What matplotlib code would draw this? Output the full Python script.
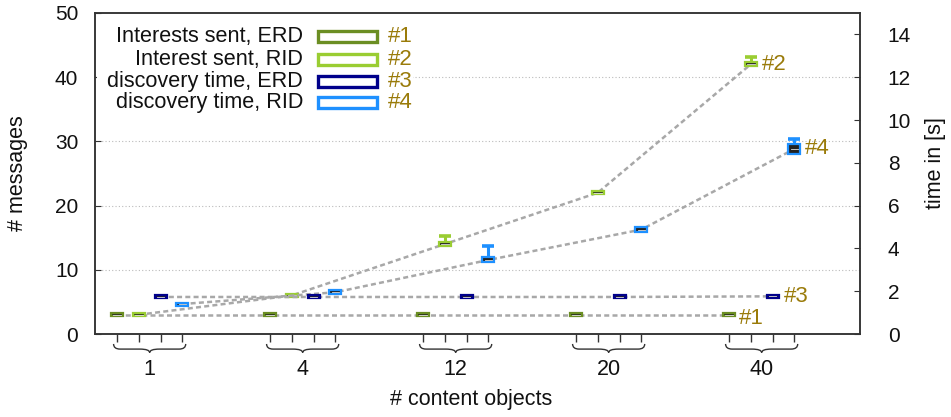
import matplotlib
matplotlib.use("Agg")
import matplotlib.pyplot as plt
from matplotlib.patches import Rectangle, PathPatch
from matplotlib.path import Path
import matplotlib.transforms as mtrans

plt.rcParams['font.family'] = ['Liberation Sans', 'DejaVu Sans']

# ---------------- data ----------------
categories = ["1", "4", "12", "20", "40"]
series_names = ["Interests sent, ERD", "Interest sent, RID",
                "discovery time, ERD", "discovery time, RID"]
series_tags = ["#1", "#2", "#3", "#4"]

# Interests sent, ERD  (# messages)
int_erd_q1 = [2.8, 2.8, 2.8, 2.8, 2.8]
int_erd_med = [3, 3, 3, 3, 3]
int_erd_q3 = [3.2, 3.2, 3.2, 3.2, 3.2]
int_erd_max = [3.2, 3.2, 3.2, 3.2, 3.2]

# Interest sent, RID  (# messages)
int_rid_q1 = [2.8, 5.8, 13.7, 21.8, 41.7]
int_rid_med = [3, 6, 14, 22, 42]
int_rid_q3 = [3.2, 6.2, 14.3, 22.2, 42.3]
int_rid_max = [3.2, 6.2, 15.2, 22.2, 43.1]

# discovery time, ERD  (s)
disc_erd_q1 = [1.66, 1.66, 1.66, 1.66, 1.69]
disc_erd_med = [1.73, 1.73, 1.73, 1.73, 1.76]
disc_erd_q3 = [1.80, 1.80, 1.80, 1.80, 1.83]
disc_erd_max = [1.80, 1.80, 1.80, 1.80, 1.83]

# discovery time, RID  (s)
disc_rid_q1 = [1.33, 1.86, 3.38, 4.78, 8.42]
disc_rid_med = [1.40, 1.95, 3.46, 4.88, 8.65]
disc_rid_q3 = [1.47, 2.06, 3.58, 5.02, 8.86]
disc_rid_max = [1.47, 2.06, 4.12, 5.02, 9.10]

colors = ["#6b8e23", "#9acd32", "#00008b", "#1e90ff"]
tag_color = "#9a7b0a"

# ---------------- layout ----------------
W, H = 951, 417
fig = plt.figure(figsize=(W / 100, H / 100), dpi=100)
ax = fig.add_axes([95 / W, 1 - 334 / H, (860 - 95) / W, (334 - 13) / H])
ax2 = ax.twinx()

group_step = 7
xpos = [[g * group_step + k for g in range(len(categories))] for k in range(4)]

ax.set_xlim(-1, 34)
ax.set_ylim(0, 50)
ax2.set_ylim(0, 15)
ax.set_yticks(range(0, 51, 10))
ax2.set_yticks(range(0, 15, 2))

for a in (ax, ax2):
    for s in a.spines.values():
        s.set_color("#333333")
        s.set_linewidth(1.1)

ax.tick_params(axis='y', direction='in', length=4, labelsize=15, pad=12, colors="#333333", labelcolor="#111111")
ax2.tick_params(axis='y', direction='in', length=4, labelsize=15, pad=20, colors="#333333", labelcolor="#111111")
all_x = sorted(x for row in xpos for x in row)
ax.set_xticks(all_x)
ax.set_xticklabels([])
ax.tick_params(axis='x', direction='out', length=6, width=1.0, colors="#333333")

for yv in [10, 20, 30, 40]:
    ax.axhline(yv, color="#bbbbbb", lw=0.8, ls=(0, (1, 2)), zorder=0)

# ---------------- series ----------------
series = [
    (ax, int_erd_q1, int_erd_med, int_erd_q3, int_erd_max),
    (ax, int_rid_q1, int_rid_med, int_rid_q3, int_rid_max),
    (ax2, disc_erd_q1, disc_erd_med, disc_erd_q3, disc_erd_max),
    (ax2, disc_rid_q1, disc_rid_med, disc_rid_q3, disc_rid_max),
]
bw = 0.55
for k, (a, q1, med, q3, mx) in enumerate(series):
    xs = xpos[k]
    a.plot(xs, med, color="#a8a8a8", lw=1.8, ls=(0, (2, 1.3)), zorder=2)
    for x, lo, m, hi, top in zip(xs, q1, med, q3, mx):
        if top > hi:
            a.plot([x, x], [hi, top], color=colors[k], lw=2.2, zorder=3,
                   solid_capstyle='butt')
            a.plot([x - bw / 2, x + bw / 2], [top, top], color=colors[k],
                   lw=2.6, zorder=3, solid_capstyle='butt')
        a.add_patch(Rectangle((x - bw / 2, lo), bw, hi - lo, facecolor="#222222",
                              edgecolor=colors[k], lw=1.6, zorder=4))
        a.plot([x - bw / 2 + 0.1, x + bw / 2 - 0.1], [m, m], color="#dddddd",
               lw=0.6, zorder=5)

# end tags
ax.text(xpos[0][-1] + 0.45, int_erd_med[-1] - 0.6, series_tags[0], color=tag_color,
        fontsize=16, va='center', ha='left', zorder=6)
ax.text(xpos[1][-1] + 0.5, int_rid_med[-1], series_tags[1], color=tag_color,
        fontsize=16, va='center', ha='left', zorder=6)
ax2.text(xpos[2][-1] + 0.5, disc_erd_med[-1], series_tags[2], color=tag_color,
         fontsize=16, va='center', ha='left', zorder=6)
ax2.text(xpos[3][-1] + 0.5, disc_rid_med[-1], series_tags[3], color=tag_color,
         fontsize=16, va='center', ha='left', zorder=6)

# ---------------- legend ----------------
ax2.add_patch(Rectangle((0.003, 0.68), 0.413, 0.315, transform=ax2.transAxes,
                        facecolor="white", edgecolor="none", zorder=7))
rows_y = [0.926, 0.856, 0.788, 0.721]
for k in range(4):
    ax2.text(0.272, rows_y[k], series_names[k], transform=ax2.transAxes,
             ha='right', va='center', fontsize=15.6, color="#111111", zorder=8)
    ax2.add_patch(Rectangle((0.292, rows_y[k] - 0.017), 0.077, 0.034,
                            transform=ax2.transAxes, facecolor="white",
                            edgecolor=colors[k], lw=2.4, zorder=8))
    ax2.text(0.383, rows_y[k], series_tags[k], transform=ax2.transAxes,
             ha='left', va='center', fontsize=16, color=tag_color, zorder=8)

# ---------------- braces and group labels ----------------
trans = mtrans.blended_transform_factory(ax.transData, ax.transAxes)
yt, yb, ytip = -0.031, -0.047, -0.058
de, dm = 0.3, 0.45
for g, cat in enumerate(categories):
    x0 = xpos[0][g] - 0.15
    x1 = xpos[3][g] + 0.15
    xm = (x0 + x1) / 2
    verts = [(x0, yt), (x0, yb), (x0 + de, yb),
             (xm - dm, yb),
             (xm, yb), (xm, ytip),
             (xm, yb), (xm + dm, yb),
             (x1 - de, yb),
             (x1, yb), (x1, yt)]
    codes = [Path.MOVETO, Path.CURVE3, Path.CURVE3,
             Path.LINETO,
             Path.CURVE3, Path.CURVE3,
             Path.CURVE3, Path.CURVE3,
             Path.LINETO,
             Path.CURVE3, Path.CURVE3]
    ax.add_patch(PathPatch(Path(verts, codes), transform=trans, facecolor='none',
                           edgecolor="#333333", lw=1.0, clip_on=False))
    ax.text(xm, -0.11, cat, transform=trans, ha='center', va='center',
            fontsize=15.5, color="#111111")

fig.text(471 / W, 1 - 400 / H, "# content objects", ha='center', va='center',
         fontsize=15.5, color="#111111")
fig.text(18 / W, 1 - 173 / H, "# messages", ha='center', va='center',
         rotation=90, fontsize=15.5, color="#111111")
fig.text(936 / W, 1 - 163 / H, "time in [s]", ha='center', va='center',
         rotation=90, fontsize=15.5, color="#111111")

fig.savefig("out.png", dpi=100)
